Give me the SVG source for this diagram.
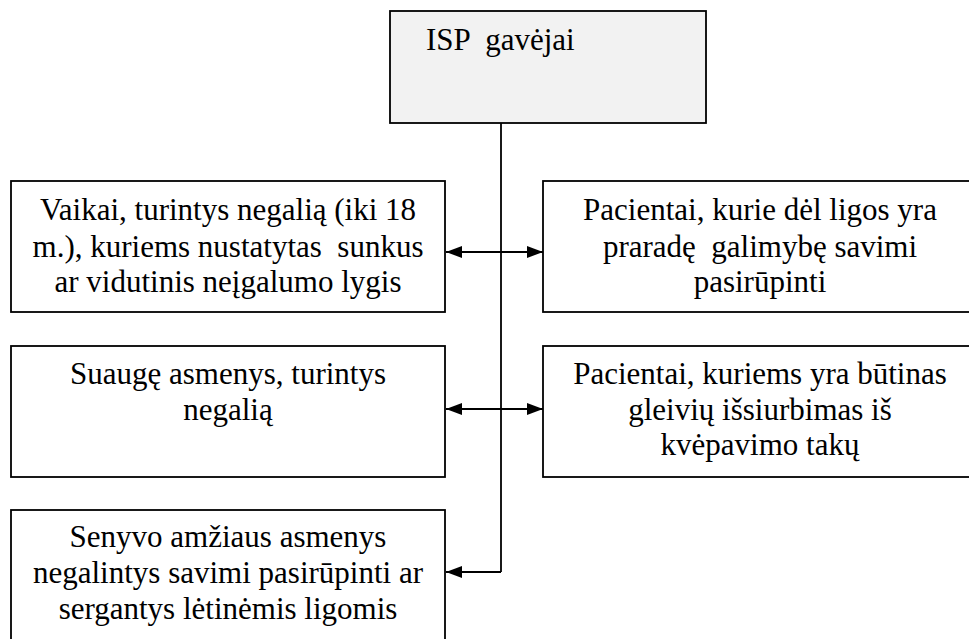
<svg xmlns="http://www.w3.org/2000/svg" width="969" height="639" viewBox="0 0 969 639">
<style>
.box{fill:#fff;stroke:#000;stroke-width:1.8}
.top{fill:#f2f2f2;stroke:#000;stroke-width:1.8}
.t{font-family:'Liberation Serif','Times New Roman',serif;font-size:31px;fill:#000}
.c{text-anchor:middle}
.ln{stroke:#000;stroke-width:1.8;fill:none}
</style>
<defs>
<marker id="ah" viewBox="0 0 16 12" refX="16" refY="6" markerWidth="16" markerHeight="12" markerUnits="userSpaceOnUse" orient="auto-start-reverse">
<path d="M0,0 L16,6 L0,12 Z" fill="#000"/>
</marker>
</defs>
<rect width="969" height="639" fill="#fff"/>
<g id="connectors">
<line class="ln" x1="501" y1="123" x2="501" y2="572"/>
<line class="ln" x1="446" y1="252" x2="543" y2="252" marker-start="url(#ah)" marker-end="url(#ah)"/>
<line class="ln" x1="446" y1="409" x2="543" y2="409" marker-start="url(#ah)" marker-end="url(#ah)"/>
<polyline class="ln" points="501,572 446,572" marker-end="url(#ah)"/>
</g>
<g id="isp">
<rect class="top" x="390" y="11" width="316" height="112"/>
<text class="t" x="426" y="50" xml:space="preserve">ISP  gavėjai</text>
</g>
<g id="vaikai">
<rect class="box" x="11" y="181" width="434" height="131"/>
<text class="t c" x="228" y="220">Vaikai, turintys negalią (iki 18</text>
<text class="t c" x="228" y="257" xml:space="preserve">m.), kuriems nustatytas  sunkus</text>
<text class="t c" x="228" y="292">ar vidutinis neįgalumo lygis</text>
</g>
<g id="pacientai1">
<rect class="box" x="543" y="181" width="440" height="131"/>
<text class="t c" x="760" y="220">Pacientai, kurie dėl ligos yra</text>
<text class="t c" x="760" y="257" xml:space="preserve">praradę  galimybę savimi</text>
<text class="t c" x="760" y="292">pasirūpinti</text>
</g>
<g id="suauge">
<rect class="box" x="11" y="346" width="434" height="131"/>
<text class="t c" x="228" y="384">Suaugę asmenys, turintys</text>
<text class="t c" x="228" y="420">negalią</text>
</g>
<g id="pacientai2">
<rect class="box" x="543" y="346" width="440" height="131"/>
<text class="t c" x="760" y="384">Pacientai, kuriems yra būtinas</text>
<text class="t c" x="760" y="420">gleivių išsiurbimas iš</text>
<text class="t c" x="760" y="455">kvėpavimo takų</text>
</g>
<g id="senyvo">
<rect class="box" x="11" y="510" width="434" height="140"/>
<text class="t c" x="228" y="547">Senyvo amžiaus asmenys</text>
<text class="t c" x="228" y="583">negalintys savimi pasirūpinti ar</text>
<text class="t c" x="228" y="619">sergantys lėtinėmis ligomis</text>
</g>
</svg>
